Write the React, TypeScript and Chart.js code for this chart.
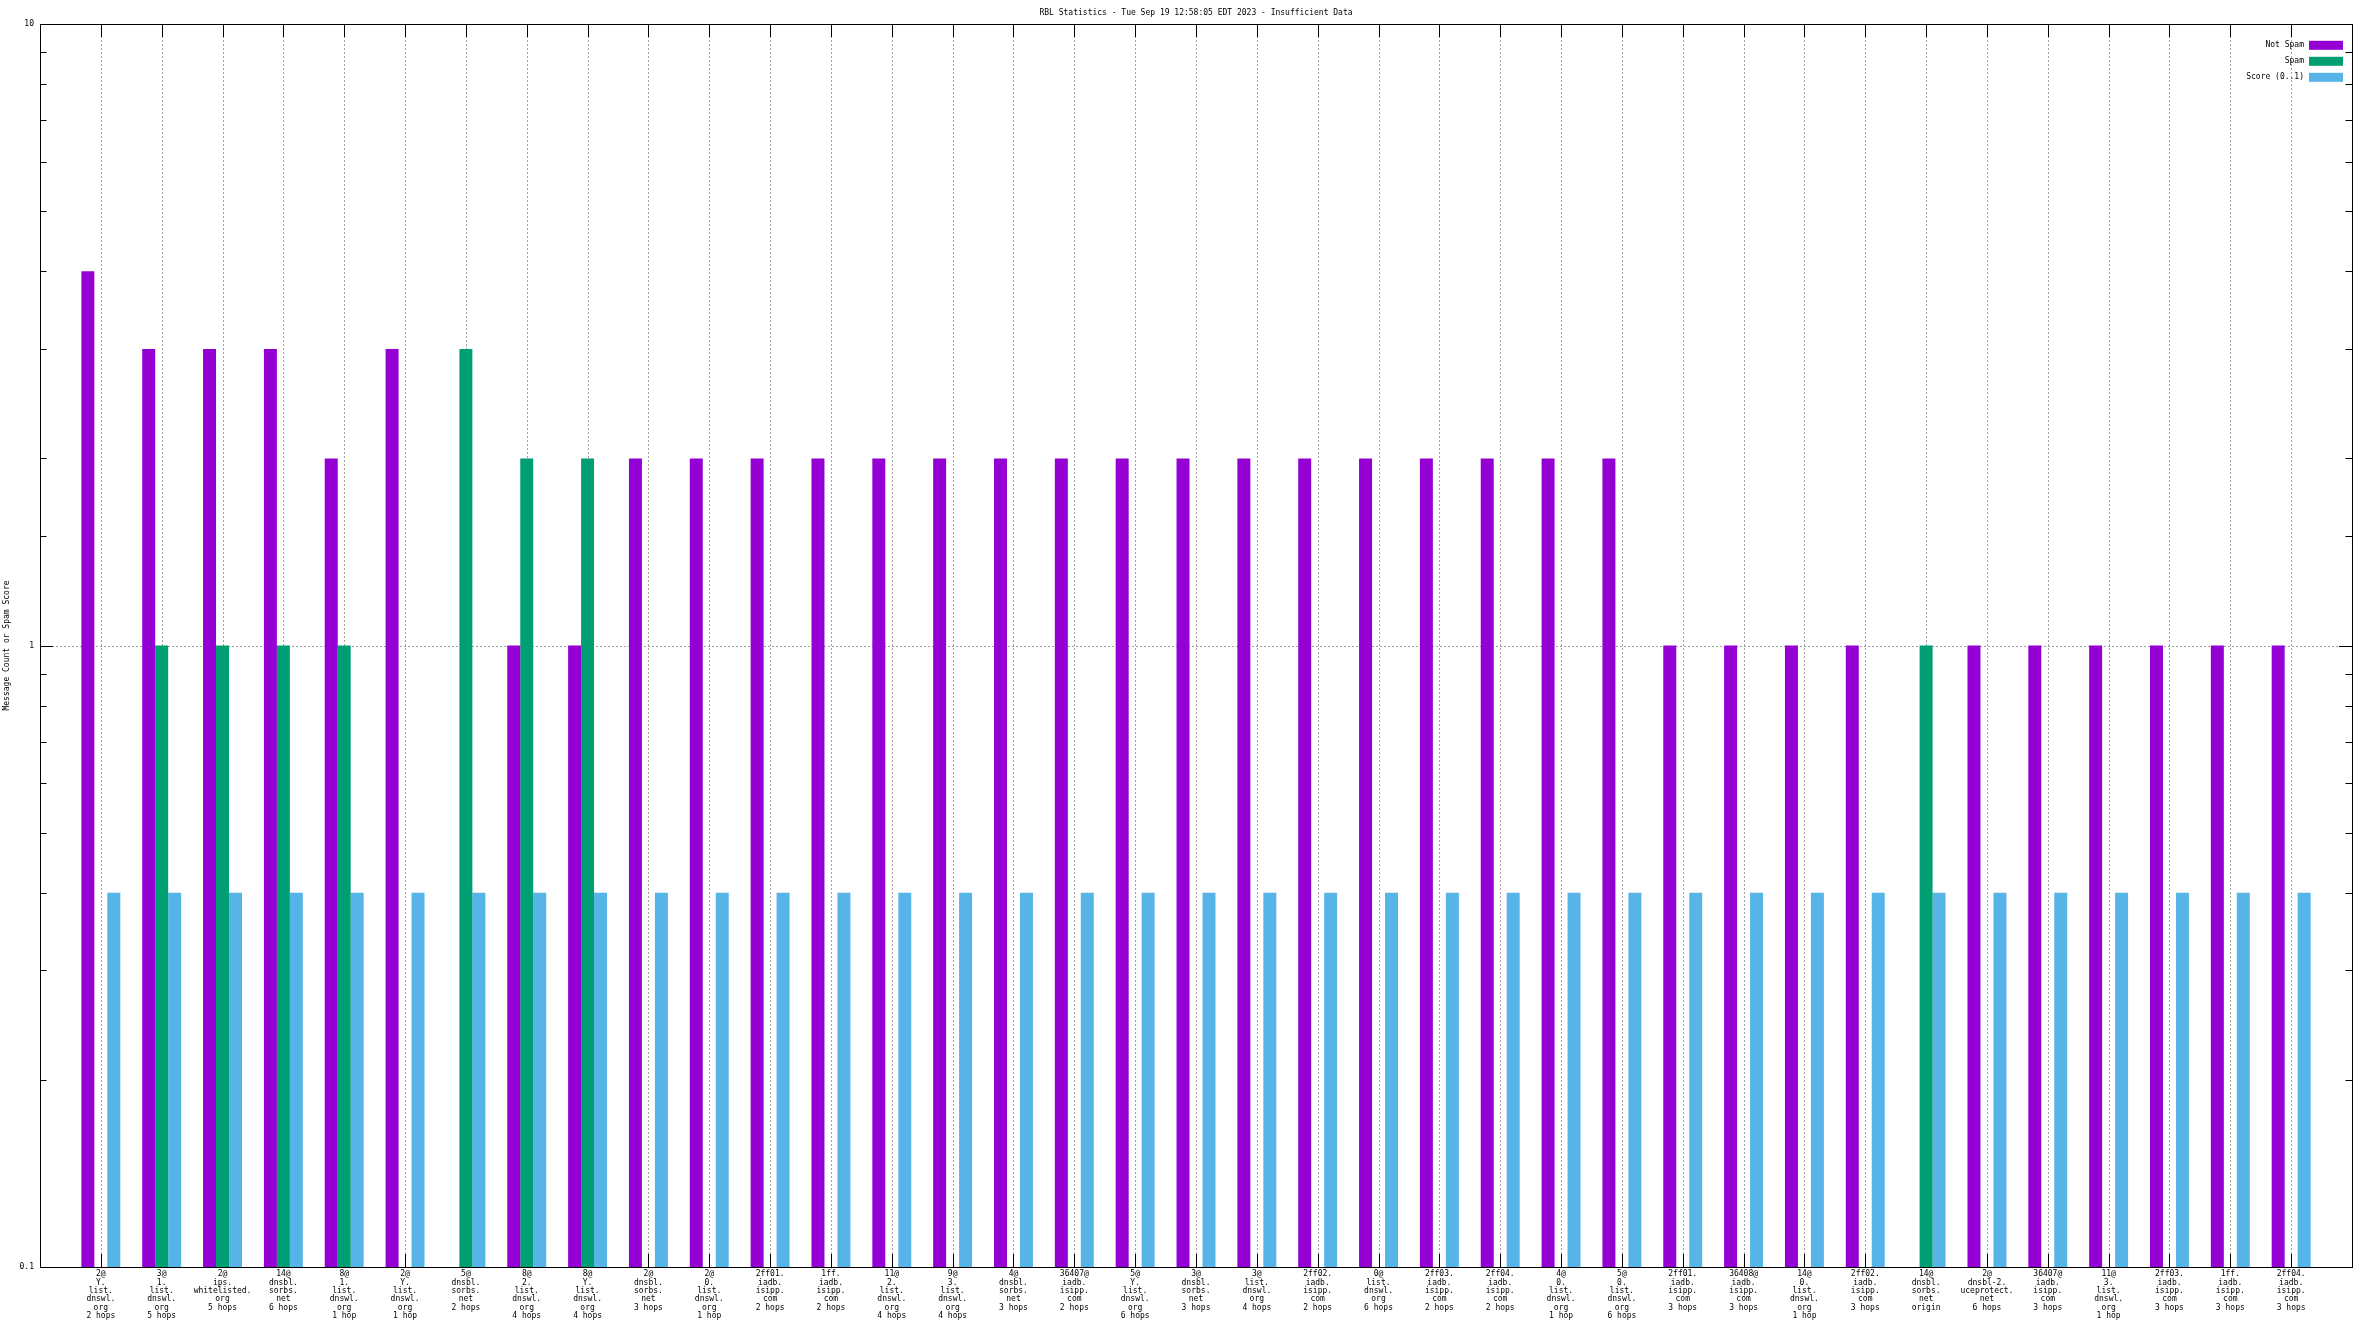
import { useEffect, useRef } from 'react';
import { Chart, registerables } from 'chart.js';

Chart.register(...registerables);

const chartTitle = 'RBL Statistics - Tue Sep 19 12:58:05 EDT 2023 - Insufficient Data';
const yAxisTitle = 'Message Count or Spam Score';
const seriesNames = ['Not Spam', 'Spam', 'Score (0..1)'];
const seriesColors = ['#9400D3', '#009E73', '#56B4E9'];

const categories = [
  '2@\nY.\nlist.\ndnswl.\norg\n2 hops',
  '3@\n1.\nlist.\ndnswl.\norg\n5 hops',
  '2@\nips.\nwhitelisted.\norg\n5 hops',
  '14@\ndnsbl.\nsorbs.\nnet\n6 hops',
  '8@\n1.\nlist.\ndnswl.\norg\n1 hop',
  '2@\nY.\nlist.\ndnswl.\norg\n1 hop',
  '5@\ndnsbl.\nsorbs.\nnet\n2 hops',
  '8@\n2.\nlist.\ndnswl.\norg\n4 hops',
  '8@\nY.\nlist.\ndnswl.\norg\n4 hops',
  '2@\ndnsbl.\nsorbs.\nnet\n3 hops',
  '2@\n0.\nlist.\ndnswl.\norg\n1 hop',
  '2ff01.\niadb.\nisipp.\ncom\n2 hops',
  '1ff.\niadb.\nisipp.\ncom\n2 hops',
  '11@\n2.\nlist.\ndnswl.\norg\n4 hops',
  '9@\n3.\nlist.\ndnswl.\norg\n4 hops',
  '4@\ndnsbl.\nsorbs.\nnet\n3 hops',
  '36407@\niadb.\nisipp.\ncom\n2 hops',
  '5@\nY.\nlist.\ndnswl.\norg\n6 hops',
  '3@\ndnsbl.\nsorbs.\nnet\n3 hops',
  '3@\nlist.\ndnswl.\norg\n4 hops',
  '2ff02.\niadb.\nisipp.\ncom\n2 hops',
  '0@\nlist.\ndnswl.\norg\n6 hops',
  '2ff03.\niadb.\nisipp.\ncom\n2 hops',
  '2ff04.\niadb.\nisipp.\ncom\n2 hops',
  '4@\n0.\nlist.\ndnswl.\norg\n1 hop',
  '5@\n0.\nlist.\ndnswl.\norg\n6 hops',
  '2ff01.\niadb.\nisipp.\ncom\n3 hops',
  '36408@\niadb.\nisipp.\ncom\n3 hops',
  '14@\n0.\nlist.\ndnswl.\norg\n1 hop',
  '2ff02.\niadb.\nisipp.\ncom\n3 hops',
  '14@\ndnsbl.\nsorbs.\nnet\norigin',
  '2@\ndnsbl-2.\nuceprotect.\nnet\n6 hops',
  '36407@\niadb.\nisipp.\ncom\n3 hops',
  '11@\n3.\nlist.\ndnswl.\norg\n1 hop',
  '2ff03.\niadb.\nisipp.\ncom\n3 hops',
  '1ff.\niadb.\nisipp.\ncom\n3 hops',
  '2ff04.\niadb.\nisipp.\ncom\n3 hops',
];

const notSpam: (number | null)[] = [
  4, 3, 3, 3, 2, 3, null, 1, 1,
  2, 2, 2, 2, 2, 2, 2, 2, 2, 2, 2, 2, 2, 2, 2, 2, 2,
  1, 1, 1, 1, null, 1, 1, 1, 1, 1, 1,
];
const spam: (number | null)[] = [
  null, 1, 1, 1, 1, null, 3, 2, 2,
  null, null, null, null, null, null, null, null, null, null, null, null, null, null, null, null, null,
  null, null, null, null, 1, null, null, null, null, null, null,
];
const score: (number | null)[] = [
  0.4, 0.4, 0.4, 0.4, 0.4, 0.4, 0.4, 0.4, 0.4,
  0.4, 0.4, 0.4, 0.4, 0.4, 0.4, 0.4, 0.4, 0.4, 0.4, 0.4, 0.4, 0.4, 0.4, 0.4, 0.4, 0.4,
  0.4, 0.4, 0.4, 0.4, 0.4, 0.4, 0.4, 0.4, 0.4, 0.4, 0.4,
];
const yMin = 0.1;
const yMax = 10;

const FONT = "'DejaVu Sans Mono', monospace";

const isMajor = (v: number) => {
  const l = Math.log10(v);
  return Math.abs(l - Math.round(l)) < 1e-6;
};

const gnuplotFrame = {
  id: 'gnuplotFrame',
  beforeDatasetsDraw(chart: any) {
    const { ctx, chartArea, scales } = chart;
    const { left, right, top, bottom } = chartArea;
    const x = scales.x;
    const y = scales.y;
    ctx.save();
    ctx.lineWidth = 1;
    // dashed grid
    ctx.strokeStyle = '#a0a0a0';
    ctx.setLineDash([2, 2]);
    categories.forEach((_, i) => {
      const px = Math.round(x.getPixelForValue(i + 1)) + 0.5;
      ctx.beginPath();
      ctx.moveTo(px, top);
      ctx.lineTo(px, bottom);
      ctx.stroke();
    });
    y.ticks.forEach((t: any) => {
      if (!isMajor(t.value) || t.value <= yMin || t.value >= yMax) return;
      const py = Math.round(y.getPixelForValue(t.value)) + 0.5;
      ctx.beginPath();
      ctx.moveTo(left, py);
      ctx.lineTo(right, py);
      ctx.stroke();
    });
    ctx.setLineDash([]);
    ctx.strokeStyle = '#000';
    // x tics (top and bottom, inward)
    categories.forEach((_, i) => {
      const px = Math.round(x.getPixelForValue(i + 1)) + 0.5;
      ctx.beginPath();
      ctx.moveTo(px, top);
      ctx.lineTo(px, top + 13);
      ctx.moveTo(px, bottom);
      ctx.lineTo(px, bottom - 13);
      ctx.stroke();
    });
    // y tics (left and right, inward)
    y.ticks.forEach((t: any) => {
      const len = isMajor(t.value) ? 13 : 6.5;
      const py = Math.round(y.getPixelForValue(t.value)) + 0.5;
      ctx.beginPath();
      ctx.moveTo(left, py);
      ctx.lineTo(left + len, py);
      ctx.moveTo(right, py);
      ctx.lineTo(right - len, py);
      ctx.stroke();
    });
    ctx.restore();
  },
  afterDatasetsDraw(chart: any) {
    const { ctx, chartArea } = chart;
    const { left, right, top, bottom } = chartArea;
    ctx.save();
    // border
    ctx.strokeStyle = '#000';
    ctx.lineWidth = 1;
    ctx.strokeRect(Math.round(left) + 0.5, Math.round(top) + 0.5, Math.round(right - left), Math.round(bottom - top));
    // title
    ctx.fillStyle = '#000';
    ctx.font = `8px ${FONT}`;
    ctx.textAlign = 'center';
    ctx.textBaseline = 'middle';
    ctx.fillText(chartTitle, (left + right) / 2, top - 11.5);
    // legend
    ctx.textAlign = 'right';
    chart.data.datasets.forEach((ds: any, i: number) => {
      const cy = top + 21.3 + i * 16;
      ctx.fillStyle = '#000';
      ctx.fillText(ds.label, right - 48, cy);
      ctx.fillStyle = ds.backgroundColor;
      ctx.fillRect(right - 43, cy - 4.5, 34, 9);
    });
    ctx.restore();
  },
};

export default function App() {
  const canvasRef = useRef<HTMLCanvasElement | null>(null);

  useEffect(() => {
    document.body.style.margin = '0';
    document.body.style.overflow = 'hidden';
    const canvas = canvasRef.current;
    if (!canvas) return;
    const labels: any[] = ['', ...categories.map((c) => c.split('\n')), ''];
    const pad = (arr: (number | null)[]) => [null, ...arr, null];
    const seriesData = [notSpam, spam, score];
    const chart = new Chart(canvas, {
      type: 'bar',
      data: {
        labels,
        datasets: seriesData.map((d, i) => ({
          label: seriesNames[i],
          data: pad(d),
          backgroundColor: seriesColors[i],
          borderWidth: 0,
          barPercentage: 1,
          categoryPercentage: 0.64,
        })),
      },
      plugins: [gnuplotFrame],
      options: {
        responsive: false,
        animation: false,
        devicePixelRatio: 1,
        layout: { padding: { top: 24, right: 16, left: 0, bottom: 0 } },
        plugins: {
          legend: { display: false },
          title: { display: false },
          tooltip: { enabled: false },
        },
        scales: {
          x: {
            type: 'category',
            offset: false,
            border: { display: false },
            grid: { display: false, drawTicks: false, tickLength: 0 },
            ticks: {
              autoSkip: false,
              maxRotation: 0,
              minRotation: 0,
              color: '#000',
              padding: 3,
              font: { family: FONT, size: 8, lineHeight: 1.04 },
            },
            afterFit: (s: any) => {
              s.height = 65;
            },
          },
          y: {
            type: 'logarithmic',
            min: yMin,
            max: yMax,
            border: { display: false },
            grid: { display: false, drawTicks: false, tickLength: 0 },
            ticks: {
              autoSkip: false,
              color: '#000',
              padding: 6,
              font: { family: FONT, size: 8 },
              callback: (v: any) => (isMajor(Number(v)) ? String(Number(v)) : ''),
            },
            title: {
              display: true,
              text: yAxisTitle,
              color: '#000',
              font: { family: FONT, size: 8 },
              padding: { top: 2.5, bottom: 0 },
            },
            afterFit: (s: any) => {
              s.width = 40;
            },
          },
        },
      },
    });
    return () => chart.destroy();
  }, []);

  return (
    <canvas
      ref={canvasRef}
      width={2368}
      height={1332}
      style={{ display: 'block', width: 2368, height: 1332 }}
    />
  );
}
